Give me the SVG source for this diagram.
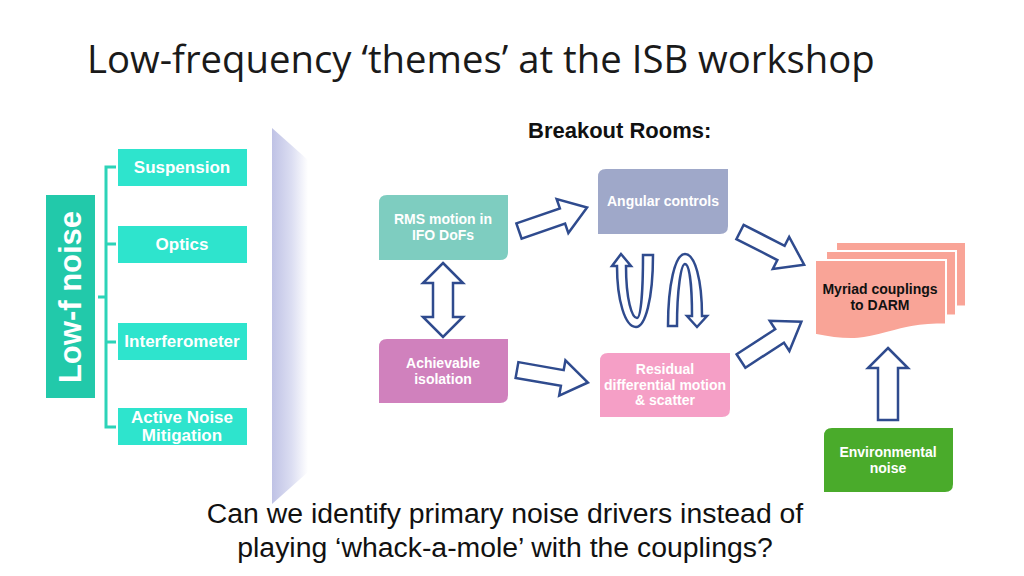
<svg xmlns="http://www.w3.org/2000/svg" width="1024" height="576" viewBox="0 0 1024 576">
<defs>
<linearGradient id="panelGrad" x1="0" y1="0" x2="1" y2="0">
<stop offset="0" stop-color="#bfc2e5"/>
<stop offset="0.55" stop-color="#dcdef2"/>
<stop offset="1" stop-color="#ffffff"/>
</linearGradient>
<path id="blk" d="M0,-8 H46 V-18 L72,0 L46,18 V8 H0 Z"/>
</defs>
<style>
.title{font-family:"Open Sans","Liberation Sans",sans-serif;font-size:38.3px;fill:#1a1a1a}
.hdr{font-family:"Liberation Sans",Arial,sans-serif;font-size:22px;font-weight:bold;fill:#111}
.lbl{font-family:"Liberation Sans",Arial,sans-serif;font-size:17px;font-weight:bold;fill:#ffffff;text-anchor:middle}
.sm{font-family:"Liberation Sans",Arial,sans-serif;font-size:14px;font-weight:bold;fill:#ffffff;text-anchor:middle}
.dk{fill:#111}
.big{font-family:"Liberation Sans",Arial,sans-serif;font-size:28.4px;fill:#111;text-anchor:middle}
.theme{fill:#2ee4cd}
.arr{fill:#ffffff;stroke:#2f4b8e;stroke-width:2.5;stroke-linejoin:miter}
.doc{fill:#f9a497;stroke:#ffffff;stroke-width:2}
.br{stroke:#2dd3b8;stroke-width:3;fill:none}
</style>
<rect width="1024" height="576" fill="#ffffff"/>
<text class="title" x="87" y="73">Low-frequency ‘themes’ at the ISB workshop</text>
<text class="hdr" x="528" y="138">Breakout Rooms:</text>

<polygon points="272,128 308,160 308,472 272,504" fill="url(#panelGrad)"/>

<g id="lowf">
<rect x="46" y="195" width="49" height="203" fill="#22c9aa"/>
<text transform="translate(81,297) rotate(-90)" font-family="Liberation Sans, Arial, sans-serif" font-size="31" font-weight="bold" fill="#ffffff" text-anchor="middle">Low-f noise</text>
</g>
<g id="bracket">
<path class="br" d="M116,167 H106 V427 H116 M106,244 H116 M106,342 H116 M98,297 H106"/>
</g>
<g id="suspension">
<rect class="theme" x="118" y="149" width="129" height="37"/>
<text class="lbl" x="182" y="173">Suspension</text>
</g>
<g id="optics">
<rect class="theme" x="118" y="226" width="129" height="37"/>
<text class="lbl" x="182" y="250">Optics</text>
</g>
<g id="interferometer">
<rect class="theme" x="118" y="323" width="129" height="37"/>
<text class="lbl" x="182" y="347">Interferometer</text>
</g>
<g id="anm">
<rect class="theme" x="118" y="408" width="129" height="37"/>
<text class="lbl" x="182" y="423">Active Noise</text>
<text class="lbl" x="182" y="441">Mitigation</text>
</g>

<g id="rms">
<path d="M387,195 H508 V252 Q508,260 500,260 H379 V203 Q379,195 387,195 Z" fill="#7ecdc0"/>
<text class="sm" x="443" y="224">RMS motion in</text>
<text class="sm" x="443" y="240">IFO DoFs</text>
</g>
<g id="angular">
<path d="M606,169 H728 V226 Q728,234 720,234 H598 V177 Q598,169 606,169 Z" fill="#9fa8c9"/>
<text class="sm" x="663" y="206">Angular controls</text>
</g>
<g id="achievable">
<path d="M387,339 H508 V395 Q508,403 500,403 H379 V347 Q379,339 387,339 Z" fill="#d081bd"/>
<text class="sm" x="443" y="368">Achievable</text>
<text class="sm" x="443" y="384">isolation</text>
</g>
<g id="residual">
<path d="M608,353 H730 V409 Q730,417 722,417 H600 V361 Q600,353 608,353 Z" fill="#f59fc6"/>
<text class="sm" x="665" y="374">Residual</text>
<text class="sm" x="665" y="390">differential motion</text>
<text class="sm" x="665" y="405">&amp; scatter</text>
</g>
<g id="myriad">
<path class="doc" d="M836,242 H966 V306.2 C901,306.2 901,330.6 836,316.7 Z"/>
<path class="doc" d="M826,251 H956 V315.2 C891,315.2 891,339.6 826,325.7 Z"/>
<path class="doc" d="M815,260 H946 V324.2 C880.5,324.2 880.5,348.6 815,334.7 Z"/>
<text class="sm dk" x="880" y="294">Myriad couplings</text>
<text class="sm dk" x="880" y="310">to DARM</text>
</g>
<g id="environmental">
<path d="M832,428 H953 V484 Q953,492 945,492 H824 V436 Q824,428 832,428 Z" fill="#4aab2b"/>
<text class="sm" x="888" y="457">Environmental</text>
<text class="sm" x="888" y="473">noise</text>
</g>

<g id="connectors">
<use href="#blk" class="arr" transform="translate(519,231) rotate(-19)"/>
<use href="#blk" class="arr" transform="translate(517,370) rotate(10)"/>
<use href="#blk" class="arr" transform="translate(740,232) rotate(27)"/>
<use href="#blk" class="arr" transform="translate(741,361) rotate(-33)"/>
<path class="arr" d="M443,263 L463,283 L453,283 L453,317 L463,317 L443,337 L423,317 L433,317 L433,283 L423,283 Z"/>
<path class="arr" d="M888,348 L908,368 L898,368 L898,420 L878,420 L878,368 L868,368 Z"/>
<path class="arr" d="M621,254 L631,266 L626,266 C626,300 632,318 637,318 C641,318 643,290 643,255 L653,255 C653,300 645,327 636,327 C625,327 617,300 617,266 L612,266 Z"/>
<path class="arr" d="M668,326 L677,326 C677,290 681,264 685,264 C690,264 692,290 692,316 L687,316 L697,327 L707,316 L702,316 C702,280 695,254 685,254 C675,254 668,285 668,326 Z"/>
</g>

<text class="big" x="505" y="523">Can we identify primary noise drivers instead of</text>
<text class="big" x="505" y="557">playing ‘whack-a-mole’ with the couplings?</text>
</svg>
